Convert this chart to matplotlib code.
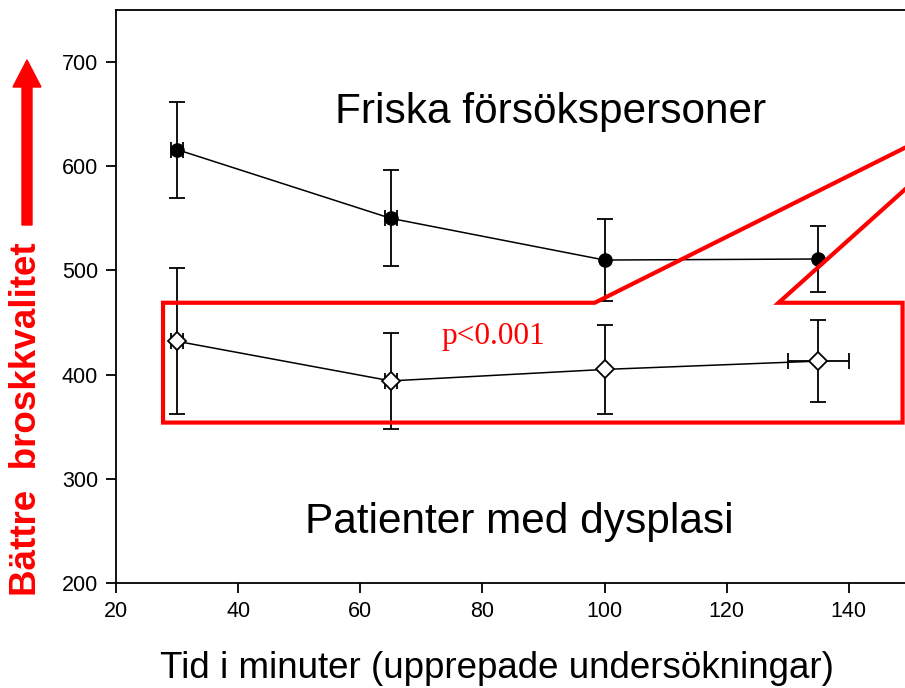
import matplotlib

matplotlib.use("Agg")
import matplotlib.pyplot as plt
from matplotlib.patches import FancyArrow

plt.rcParams["font.family"] = ["Liberation Sans", "DejaVu Sans"]

# values
tid = [30, 65, 100, 135]
friska = [616, 550, 510, 511]
friska_err = [46, 46, 39, 32]
friska_xerr = [1, 1, 0, 0]
patienter = [432, 394, 405, 413]
patienter_err = [70, 46, 43, 39]
patienter_xerr = [1, 1, 0, 5]
yticks = [200, 300, 400, 500, 600, 700]
xticks = [20, 40, 60, 80, 100, 120, 140]

fig = plt.figure(figsize=(9.05, 6.88), dpi=100)
ax = fig.add_axes([116 / 905, 105 / 688, 1 - 116 / 905, 573 / 688])

ax.errorbar(tid, friska, yerr=friska_err, xerr=friska_xerr, color="black",
            marker="o", markersize=9.5, linewidth=1.1, elinewidth=1.3,
            capsize=6, capthick=1.3, zorder=3)
ax.errorbar(tid, patienter, yerr=patienter_err, xerr=patienter_xerr, color="black",
            marker="D", markersize=9.5, markerfacecolor="white", markeredgewidth=1.3,
            linewidth=1.1, elinewidth=1.3, capsize=6, capthick=1.3, zorder=3)

ax.set_xlim(20, 149.2)
ax.set_ylim(200, 750)
ax.set_xticks(xticks)
ax.set_yticks(yticks)
ax.spines["right"].set_visible(False)
for s in ["left", "bottom", "top"]:
    ax.spines[s].set_linewidth(1.3)
ax.tick_params(direction="out", length=7, width=1.3, labelsize=15.5, pad=6)

# red callout around the patient group
box_x = [150, 128.5, 148.8, 148.8, 27.7, 27.7, 98.4, 152]
box_y = [582, 469, 469, 354, 354, 469, 469, 626]
ax.plot(box_x, box_y, color="red", linewidth=3, clip_on=False, zorder=4,
        solid_joinstyle="miter")

ax.text(91.2, 652, "Friska försökspersoner", fontsize=30.5, ha="center", va="center")
ax.text(86.1, 259, "Patienter med dysplasi", fontsize=30.5, ha="center", va="center")
ax.text(81.8, 437, "p<0.001", fontsize=22.5, color="red", ha="center", va="center",
        family=["Liberation Serif", "DejaVu Serif"])

fig.text(497 / 905, 20 / 688, "Tid i minuter (upprepade undersökningar)",
         fontsize=26.5, ha="center", va="center")
fig.text(27 / 905, (688 - 419) / 688, "Bättre  broskkvalitet", fontsize=26.5,
         fontweight="bold", color="red", rotation=90, ha="center", va="center")
fig.add_artist(FancyArrow(0.27, 4.63, 0, 1.38, width=0.10, head_width=0.28,
                          head_length=0.27, length_includes_head=False,
                          color="red", transform=fig.dpi_scale_trans))

fig.savefig("out.png", dpi=100)
